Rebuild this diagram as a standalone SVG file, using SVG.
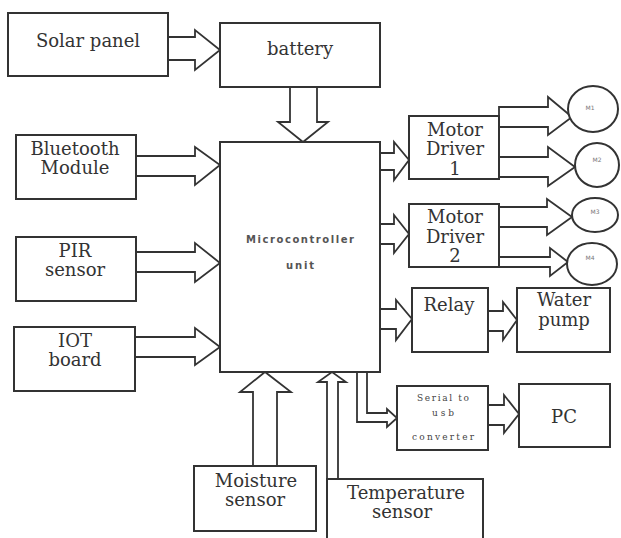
<svg xmlns="http://www.w3.org/2000/svg" width="621" height="538" viewBox="0 0 621 538">
<style>
.box{fill:#fff;stroke:#333;stroke-width:2}
.arr{fill:#fff;stroke:#333;stroke-width:1.8;stroke-linejoin:miter}
.t{font-family:"DejaVu Serif","Liberation Serif",serif;font-size:18px;fill:#333;text-anchor:middle}
.s{font-family:"DejaVu Sans","Liberation Sans",sans-serif;font-size:10px;font-weight:bold;fill:#555;text-anchor:middle}
.sm{font-family:"DejaVu Serif","Liberation Serif",serif;font-size:9px;fill:#444;text-anchor:middle}
.m{font-family:"DejaVu Sans","Liberation Sans",sans-serif;font-size:6px;fill:#777;text-anchor:middle}
</style>
<rect width="621" height="538" fill="#fff"/>
<g id="connectors">
<path class="arr" d="M168,37 H195 V30 L220,50 L195,70 V60 H168"/>
<path class="arr" d="M290,87 V122 H278 L303,142 L328,122 H317 V87"/>
<path class="arr" d="M136,156 H195 V147 L220,165 L195,185 V176 H136"/>
<path class="arr" d="M136,252 H195 V243 L220,263 L195,282 V272 H136"/>
<path class="arr" d="M135,337 H195 V328 L220,347 L195,365 V357 H135"/>
<path class="arr" d="M380,153 H394 V142 L409,160 L394,180 V170 H380"/>
<path class="arr" d="M380,224 H394 V215 L409,234 L394,253 V244 H380"/>
<path class="arr" d="M380,309 H396 V300 L412,319 L396,340 V329 H380"/>
<path class="arr" d="M488,311 H503 V302 L517,320 L503,340 V331 H488"/>
<path class="arr" d="M488,405 H504 V395 L519,414 L504,433 V425 H488"/>
<path class="arr" d="M499,107 H548 V97 L572,117 L548,135 V127 H499 Z"/>
<path class="arr" d="M499,157 H548 V147 L575,167 L548,186 V177 H499"/>
<path class="arr" d="M499,207 H547 V199 L572,217 L547,235 V227 H499"/>
<path class="arr" d="M499,257 H550 V248 L568,262 L550,276 V267 H499"/>
<path class="arr" d="M253,466 V392 H240 L265,372 L291,392 H277 V466"/>
<path class="arr" d="M327,479 V382 H318 L332,372 L346,382 H338 V479"/>
<path class="arr" d="M357,372 V422 H387 V427 L397,418 L387,409 V413 H367 V372"/>
</g>
<g id="solar"><rect class="box" x="8" y="13" width="160" height="63"/><text class="t" x="88" y="47">Solar panel</text></g>
<g id="battery"><rect class="box" x="220" y="23" width="160" height="64"/><text class="t" x="300" y="55">battery</text></g>
<g id="mcu"><rect class="box" x="220" y="142" width="160" height="230"/><text class="s" x="300" y="243" textLength="108" lengthAdjust="spacing">Microcontroller</text><text class="s" x="300" y="269" textLength="28" lengthAdjust="spacing">unit</text></g>
<g id="bluetooth"><rect class="box" x="16" y="135" width="120" height="64"/><text class="t" x="75" y="155">Bluetooth</text><text class="t" x="75" y="174">Module</text></g>
<g id="pir"><rect class="box" x="16" y="237" width="120" height="64"/><text class="t" x="75" y="257">PIR</text><text class="t" x="75" y="276">sensor</text></g>
<g id="iot"><rect class="box" x="14" y="327" width="121" height="64"/><text class="t" x="75" y="347">IOT</text><text class="t" x="75" y="366">board</text></g>
<g id="md1"><rect class="box" x="409" y="116" width="90" height="63"/><text class="t" x="455" y="136">Motor</text><text class="t" x="455" y="155">Driver</text><text class="t" x="455" y="175">1</text></g>
<g id="md2"><rect class="box" x="409" y="204" width="90" height="63"/><text class="t" x="455" y="223">Motor</text><text class="t" x="455" y="243">Driver</text><text class="t" x="455" y="262">2</text></g>
<g id="m1"><ellipse class="box" cx="593" cy="109" rx="25" ry="23"/><text class="m" x="590" y="110">M1</text></g>
<g id="m2"><ellipse class="box" cx="597" cy="165" rx="22" ry="22"/><text class="m" x="597" y="162">M2</text></g>
<g id="m3"><ellipse class="box" cx="595" cy="215" rx="23" ry="17"/><text class="m" x="595" y="214">M3</text></g>
<g id="m4"><ellipse class="box" cx="592" cy="264" rx="25" ry="21"/><text class="m" x="590" y="260">M4</text></g>
<g id="relay"><rect class="box" x="412" y="288" width="76" height="64"/><text class="t" x="449" y="311">Relay</text></g>
<g id="pump"><rect class="box" x="517" y="288" width="93" height="64"/><text class="t" x="564" y="306">Water</text><text class="t" x="564" y="326">pump</text></g>
<g id="serial"><rect class="box" x="397" y="386" width="91" height="64"/><text class="sm" x="443" y="401" textLength="52" lengthAdjust="spacing">Serial to</text><text class="sm" x="443" y="416" textLength="22" lengthAdjust="spacing">usb</text><text class="sm" x="443" y="440" textLength="62" lengthAdjust="spacing">converter</text></g>
<g id="pc"><rect class="box" x="519" y="384" width="91" height="63"/><text class="t" x="564" y="423">PC</text></g>
<g id="moisture"><rect class="box" x="194" y="466" width="122" height="65"/><text class="t" x="256" y="487">Moisture</text><text class="t" x="255" y="506">sensor</text></g>
<g id="temperature"><rect class="box" x="327" y="479" width="156" height="70"/><text class="t" x="406" y="499">Temperature</text><text class="t" x="402" y="518">sensor</text></g>
</svg>
